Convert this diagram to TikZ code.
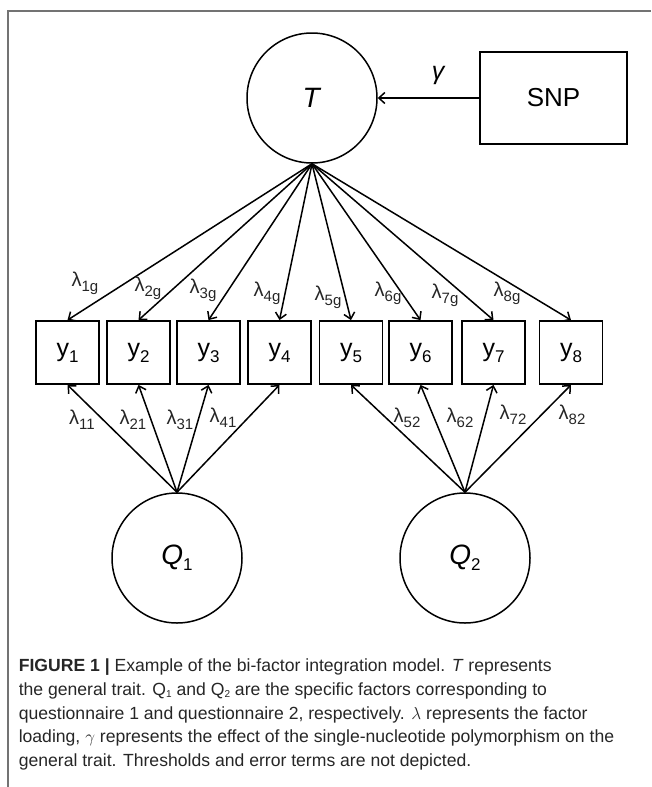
\documentclass[tikz,border=0pt]{standalone}
\usepackage{fontspec}
\setmainfont{Liberation Sans}
\usetikzlibrary{arrows.meta}

\newcommand{\lam}[1]{λ\raisebox{-5pt}{\fontsize{15}{15}\selectfont #1}}
\newcommand{\lowsub}[3]{\raisebox{-#1}{\fontsize{#2}{#2}\selectfont #3}}

\begin{document}
\begin{tikzpicture}[
    x=1pt, y=-1pt,
    >={Straight Barb[length=6pt, width=11pt]},
    line width=1.5pt,
    latent/.style={
        draw,
        circle,
        minimum size=130pt,
        inner sep=0pt,
        font=\fontsize{28}{28}\selectfont
    },
    observed/.style={
        draw,
        rectangle,
        line width=1.8pt,
        minimum width=63pt,
        minimum height=63pt,
        inner sep=0pt,
        font=\fontsize{25}{25}\selectfont
    },
    loading/.style={
        font=\fontsize{20}{20}\selectfont,
        inner sep=0pt,
        text=black!85
    },
    captionline/.style={
        anchor=base west,
        inner sep=0pt,
        font=\fontsize{17.6}{17.6}\selectfont,
        text=black!85
    }
]
\useasboundingbox (0,0) rectangle (651,787);

% frame of the figure
\draw[black!55, line width=1.4pt] (8,787) -- (8,11) -- (651,11);

% general trait and the SNP
\node[latent] (T) at (312,98) {\textit{T}};
\node[draw, line width=1.8pt, minimum width=147pt, minimum height=92pt, inner sep=0pt,
      font=\fontsize{26}{26}\selectfont] (snp) at (553.5,98) {SNP};
\draw[->] (snp.west) -- (T.east);
\node[font=\fontsize{25}{25}\selectfont\itshape] (gamma) at (438,75) {γ};

% items
\node[observed] (y1) at (67.5,352.5) {y\lowsub{6pt}{17}{1}};
\node[observed] (y2) at (138.5,352.5) {y\lowsub{6pt}{17}{2}};
\node[observed] (y3) at (208.5,352.5) {y\lowsub{6pt}{17}{3}};
\node[observed] (y4) at (279.5,352.5) {y\lowsub{6pt}{17}{4}};
\node[observed] (y5) at (351,352.5) {y\lowsub{6pt}{17}{5}};
\node[observed] (y6) at (420.5,352.5) {y\lowsub{6pt}{17}{6}};
\node[observed] (y7) at (493.5,352.5) {y\lowsub{6pt}{17}{7}};
\node[observed] (y8) at (571,352.5) {y\lowsub{6pt}{17}{8}};

% specific factors
\node[latent] (q1) at (177,558) {\textit{Q}\lowsub{6pt}{17}{1}};
\node[latent] (q2) at (465,558) {\textit{Q}\lowsub{6pt}{17}{2}};

% general loadings
\draw[->] (T.south) -- (y1.north);
\draw[->] (T.south) -- (y2.north);
\draw[->] (T.south) -- (y3.north);
\draw[->] (T.south) -- (y4.north);
\draw[->] (T.south) -- (y5.north);
\draw[->] (T.south) -- (y6.north);
\draw[->] (T.south) -- (y7.north);
\draw[->] (T.south) -- (y8.north);

\node[loading] (l1g) at (85,283) {\lam{1g}};
\node[loading] (l2g) at (148,288) {\lam{2g}};
\node[loading] (l3g) at (203,290) {\lam{3g}};
\node[loading] (l4g) at (267,293) {\lam{4g}};
\node[loading] (l5g) at (328,297) {\lam{5g}};
\node[loading] (l6g) at (388,293) {\lam{6g}};
\node[loading] (l7g) at (445,295) {\lam{7g}};
\node[loading] (l8g) at (507,293) {\lam{8g}};

% specific loadings
\draw[->] (q1.north) -- (y1.south);
\draw[->] (q1.north) -- (y2.south);
\draw[->] (q1.north) -- (y3.south);
\draw[->] (q1.north) -- (y4.south);
\draw[->] (q2.north) -- (y5.south);
\draw[->] (q2.north) -- (y6.south);
\draw[->] (q2.north) -- (y7.south);
\draw[->] (q2.north) -- (y8.south);

\node[loading] (l11) at (82,420) {\lam{11}};
\node[loading] (l21) at (133,420) {\lam{21}};
\node[loading] (l31) at (180,420) {\lam{31}};
\node[loading] (l41) at (223,418) {\lam{41}};
\node[loading] (l52) at (407,418) {\lam{52}};
\node[loading] (l62) at (460,418) {\lam{62}};
\node[loading] (l72) at (513,415) {\lam{72}};
\node[loading] (l82) at (572,415) {\lam{82}};

% caption
\node[captionline] (cap1) at (18,671) {\textbf{FIGURE 1 |} Example of the bi-factor integration model. \textit{T} represents};
\node[captionline] (cap2) at (18,695) {the general trait. Q\lowsub{2pt}{10}{1} and Q\lowsub{2pt}{10}{2} are the specific factors corresponding to};
\node[captionline] (cap3) at (18,719) {questionnaire 1 and questionnaire 2, respectively. $\lambda$ represents the factor};
\node[captionline] (cap4) at (18,742) {loading, $\gamma$ represents the effect of the single-nucleotide polymorphism on the};
\node[captionline] (cap5) at (18,766) {general trait. Thresholds and error terms are not depicted.};

\end{tikzpicture}
\end{document}
